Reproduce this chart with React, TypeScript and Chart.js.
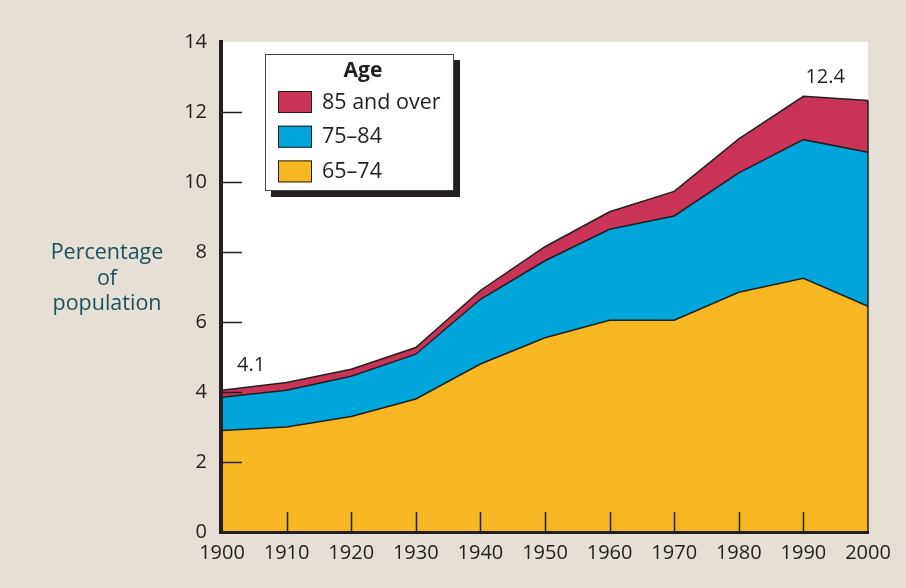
import React, { useEffect, useRef } from "react";
import { Chart, registerables } from "chart.js";

Chart.register(...registerables);

const years = ["1900", "1910", "1920", "1930", "1940", "1950", "1960", "1970", "1980", "1990", "2000"];
const age65to74 = [2.9, 3.0, 3.3, 3.8, 4.8, 5.55, 6.05, 6.05, 6.85, 7.25, 6.45];
const age75to84 = [0.95, 1.05, 1.15, 1.28, 1.85, 2.2, 2.6, 2.98, 3.41, 3.96, 4.4];
const age85plus = [0.2, 0.22, 0.2, 0.19, 0.25, 0.4, 0.5, 0.7, 0.97, 1.24, 1.48];
const seriesLabels = ["65–74", "75–84", "85 and over"];
const seriesColors = ["#f7b723", "#00a6d9", "#c93358"];
const legendTitle = "Age";
const yTitleLines = ["Percentage", "of", "population"];
const yMin = 0;
const yMax = 14;
const yStep = 2;
const annotationLabels = ["4.1", "12.4"];
const annotationIndices = [0, 9];
const annotationValues = [4.1, 12.4];

const FONT = "'Open Sans', 'Noto Sans', sans-serif";
const INK = "#231f20";
const BG = "#e5dfd5";

const decorPlugin = {
  id: "decor",
  beforeDraw(chart: any) {
    const { ctx, chartArea: a } = chart;
    ctx.save();
    ctx.fillStyle = BG;
    ctx.fillRect(0, 0, chart.width, chart.height);
    ctx.fillStyle = "#ffffff";
    ctx.fillRect(a.left, a.top, a.right - a.left, a.bottom - a.top);
    ctx.restore();
  },
  afterDatasetsDraw(chart: any) {
    const { ctx, chartArea: a, scales } = chart;
    const xs = scales.x;
    const ys = scales.y;
    ctx.save();
    ctx.strokeStyle = INK;
    ctx.lineCap = "butt";
    const lastIdx = years.length - 1;
    const total = age65to74[lastIdx] + age75to84[lastIdx] + age85plus[lastIdx];
    ctx.lineWidth = 1.5;
    ctx.beginPath();
    ctx.moveTo(a.right, a.bottom);
    ctx.lineTo(a.right, ys.getPixelForValue(total));
    ctx.stroke();
    ctx.lineWidth = 1.5;
    for (let v = yMin + yStep; v < yMax; v += yStep) {
      const y = Math.round(ys.getPixelForValue(v)) + 0.5;
      ctx.beginPath();
      ctx.moveTo(a.left, y);
      ctx.lineTo(a.left + 20, y);
      ctx.stroke();
    }
    for (let i = 1; i < years.length - 1; i++) {
      const x = Math.round(xs.getPixelForValue(i)) + 0.5;
      ctx.beginPath();
      ctx.moveTo(x, a.bottom);
      ctx.lineTo(x, a.bottom - 20);
      ctx.stroke();
    }
    ctx.lineWidth = 4;
    ctx.beginPath();
    ctx.moveTo(a.left - 1, a.top - 2);
    ctx.lineTo(a.left - 1, a.bottom + 2);
    ctx.stroke();
    ctx.lineWidth = 3;
    ctx.beginPath();
    ctx.moveTo(a.left - 3, a.bottom + 0.5);
    ctx.lineTo(a.right + 1, a.bottom + 0.5);
    ctx.stroke();
    ctx.fillStyle = INK;
    ctx.font = `20px ${FONT}`;
    ctx.textAlign = "left";
    ctx.textBaseline = "middle";
    const dxs = [15, 2];
    const dys = [-23, -21];
    annotationLabels.forEach((t, k) => {
      const x = xs.getPixelForValue(annotationIndices[k]) + dxs[k];
      const y = ys.getPixelForValue(annotationValues[k]) + dys[k];
      ctx.fillText(t, x, y);
    });
    ctx.restore();
  },
  afterDraw(chart: any) {
    const { ctx } = chart;
    ctx.save();
    ctx.fillStyle = "#1d4f5e";
    ctx.font = `21.5px ${FONT}`;
    ctx.textAlign = "center";
    ctx.textBaseline = "middle";
    yTitleLines.forEach((t, i) => ctx.fillText(t, 107, 253 + i * 25.5));
    const lx = 265, ly = 54, lw = 189, lh = 137;
    ctx.fillStyle = INK;
    ctx.fillRect(lx + 6, ly + 6, lw, lh);
    ctx.fillStyle = "#ffffff";
    ctx.fillRect(lx, ly, lw, lh);
    ctx.strokeStyle = "#444";
    ctx.lineWidth = 1;
    ctx.strokeRect(lx + 0.5, ly + 0.5, lw - 1, lh - 1);
    ctx.fillStyle = INK;
    ctx.font = `bold 21px ${FONT}`;
    ctx.textAlign = "center";
    ctx.fillText(legendTitle, lx + 98, ly + 17);
    ctx.font = `21.5px ${FONT}`;
    ctx.textAlign = "left";
    const order = [2, 1, 0];
    order.forEach((di, i) => {
      const sy = ly + 37 + i * 34.7;
      ctx.fillStyle = seriesColors[di];
      ctx.fillRect(lx + 13, sy, 34, 22);
      ctx.strokeStyle = INK;
      ctx.lineWidth = 1;
      ctx.strokeRect(lx + 13.5, sy + 0.5, 33, 21);
      ctx.fillStyle = INK;
      ctx.fillText(seriesLabels[di], lx + 57, sy + 11.5);
    });
    ctx.restore();
  },
};

export default function App() {
  const ref = useRef<HTMLCanvasElement>(null);
  useEffect(() => {
    if (!ref.current) return;
    const data = [age65to74, age75to84, age85plus];
    const chart = new Chart(ref.current, {
      type: "line",
      data: {
        labels: years,
        datasets: data.map((d, i) => ({
          label: seriesLabels[i],
          data: d,
          backgroundColor: seriesColors[i],
          borderColor: INK,
          borderWidth: 1.5,
          pointRadius: 0,
          tension: 0,
          fill: i === 0 ? "origin" : "-1",
        })),
      },
      options: {
        animation: false,
        responsive: false,
        devicePixelRatio: 1,
        layout: { padding: { top: 42, right: 38, left: 0, bottom: 0 } },
        plugins: { legend: { display: false }, tooltip: { enabled: false } },
        scales: {
          x: {
            type: "category",
            offset: false,
            grid: { display: false, drawTicks: false },
            border: { display: false },
            ticks: {
              color: INK,
              font: { family: FONT, size: 20 },
              padding: 9,
              maxRotation: 0,
              autoSkip: false,
            },
            afterFit(s: any) {
              s.height = 56;
            },
          },
          y: {
            stacked: true,
            min: yMin,
            max: yMax,
            grid: { display: false, drawTicks: false },
            border: { display: false },
            ticks: {
              stepSize: yStep,
              color: INK,
              font: { family: FONT, size: 20 },
              padding: 15,
            },
            afterFit(s: any) {
              s.width = 222;
            },
          },
        },
      } as any,
      plugins: [decorPlugin],
    });
    return () => chart.destroy();
  }, []);
  return (
    <div style={{ position: "absolute", left: 0, top: 0, width: 906, height: 588, background: BG }}>
      <canvas ref={ref} width={906} height={588} />
    </div>
  );
}
